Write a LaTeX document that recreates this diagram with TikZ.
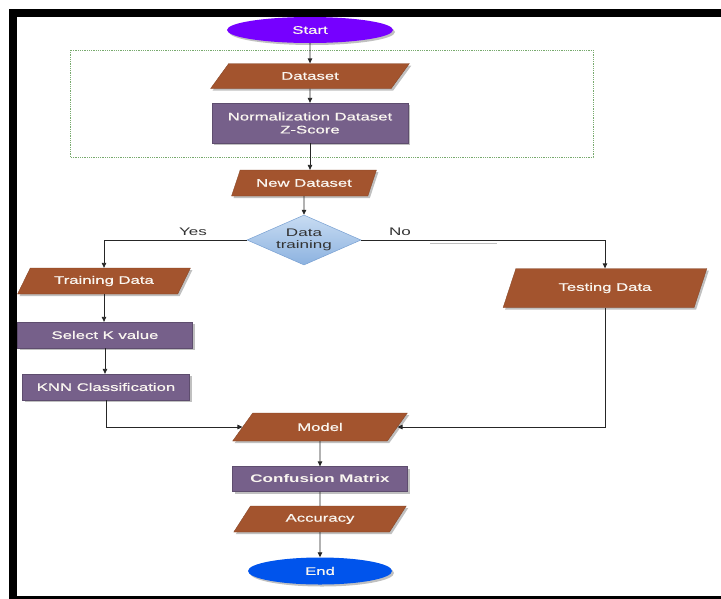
\documentclass[tikz,border=0pt]{standalone}
\usepackage{fontspec}
\newfontfamily\diafont{Liberation Sans}[FakeStretch=1.55]
\newfontfamily\boxfont{Liberation Sans}[FakeStretch=1.52,FakeBold=0.7]
\usetikzlibrary{shapes.geometric,arrows.meta,shadows}
\definecolor{brownfill}{RGB}{163,84,46}
\definecolor{purplefill}{RGB}{118,96,138}
\definecolor{startfill}{RGB}{118,0,255}
\definecolor{endfill}{RGB}{0,84,236}
\definecolor{diatop}{RGB}{200,220,242}
\definecolor{diabot}{RGB}{140,178,224}
\definecolor{diaedge}{RGB}{120,160,210}
\definecolor{dotgreen}{RGB}{120,170,110}
\definecolor{labgray}{RGB}{50,50,50}
\definecolor{textwhite}{RGB}{250,246,240}
\tikzset{
  base/.style={font=\boxfont\fontsize{11}{13}\selectfont, text=textwhite, align=center, inner sep=0pt,
    drop shadow={shadow xshift=2pt, shadow yshift=-2pt, opacity=0.35, fill=black!70}},
  para/.style={base, trapezium, trapezium left angle=#1, trapezium right angle=180-#1,
    trapezium stretches=true, fill=brownfill, draw=brownfill!80!black, line width=0.3pt},
  procbox/.style={base, rectangle, fill=purplefill, draw=purplefill!80!black, line width=0.3pt},
  term/.style={base, ellipse, draw=none},
  decide/.style={font=\diafont\fontsize{11}{12.5}\selectfont, text=labgray, align=center, diamond, aspect=2.2, inner sep=0pt,
    top color=diatop, bottom color=diabot, draw=diaedge, line width=0.5pt},
  lab/.style={font=\diafont\fontsize{11}{13}\selectfont, text=labgray},
  conn/.style={line width=0.8pt, draw=black!85},
  arr/.style={conn, -{Triangle[length=5pt,width=4.5pt]}}
}
\begin{document}
\begin{tikzpicture}[x=1pt,y=-1pt]
\path[use as bounding box] (0,0) rectangle (721,598);
\clip (0,0) rectangle (721,598);
\fill[white] (0,0) rectangle (721,598);
% frame
\draw[line width=8pt, black] (12.5,13) rectangle (735,600);
% dotted group box
\draw[dotgreen, densely dotted, line width=0.8pt] (70,50) rectangle (593,157);

\node[term, fill=startfill, minimum width=166pt, minimum height=26pt] (start) at (310,30) {Start};
\node[para=50, minimum width=200pt, minimum height=25pt] (ds) at (310,76) {Dataset};
\node[procbox, minimum width=196pt, minimum height=40pt] (norm) at (310,123) {Normalization Dataset\\Z-Score};
\node[para=50, minimum width=145pt, minimum height=26pt] (nd) at (304,183) {New Dataset};
\node[decide, minimum width=114pt, minimum height=50pt] (dec) at (304,240) {Data\\training};
\node[lab] (yes) at (193,232) {Yes};
\node[lab] (no) at (400,232) {No};
\node[para=50, minimum width=173pt, minimum height=26pt] (train) at (104,281) {Training Data};
\node[para=57, minimum width=204pt, minimum height=39pt] (test) at (605,288) {Testing Data};
\node[procbox, minimum width=175pt, minimum height=26pt] (selk) at (105,335) {Select K value};
\node[procbox, minimum width=167pt, minimum height=26pt] (knn) at (106,387) {KNN Classification};
\node[para=50, minimum width=175pt, minimum height=28pt] (model) at (320,427) {Model};
\node[procbox, minimum width=175pt, minimum height=25pt, font=\diafont\bfseries\fontsize{11}{13}\selectfont] (conf) at (320,479) {Confusion Matrix};
\node[para=50, minimum width=173pt, minimum height=26pt] (acc) at (320,519) {Accuracy};
\node[term, fill=endfill, minimum width=144pt, minimum height=27pt] (end) at (320,571) {End};

% faint artifact line
\draw[black!25, line width=1.5pt] (430,243.5) -- (497,243.5);

% connectors
\draw[arr] (start.south) -- (ds.north);
\draw[arr] (ds.south) -- (norm.north);
\draw[arr] (norm.south) -- (norm.south |- nd.north);
\draw[arr] (nd.south) -- (dec.north);
\draw[arr] (dec.west) -| (train.north);
\draw[arr] (dec.east) -| (test.north);
\draw[arr] (train.south) -- (train.south |- selk.north);
\draw[arr] (selk.south) -- (selk.south |- knn.north);
\draw[arr] (knn.south) |- (model.west);
\draw[arr] (test.south) |- (model.east);
\draw[arr] (model.south) -- (conf.north);
\draw[conn] (conf.south) -- (acc.north);
\draw[arr] (acc.south) -- (end.north);
\end{tikzpicture}
\end{document}
